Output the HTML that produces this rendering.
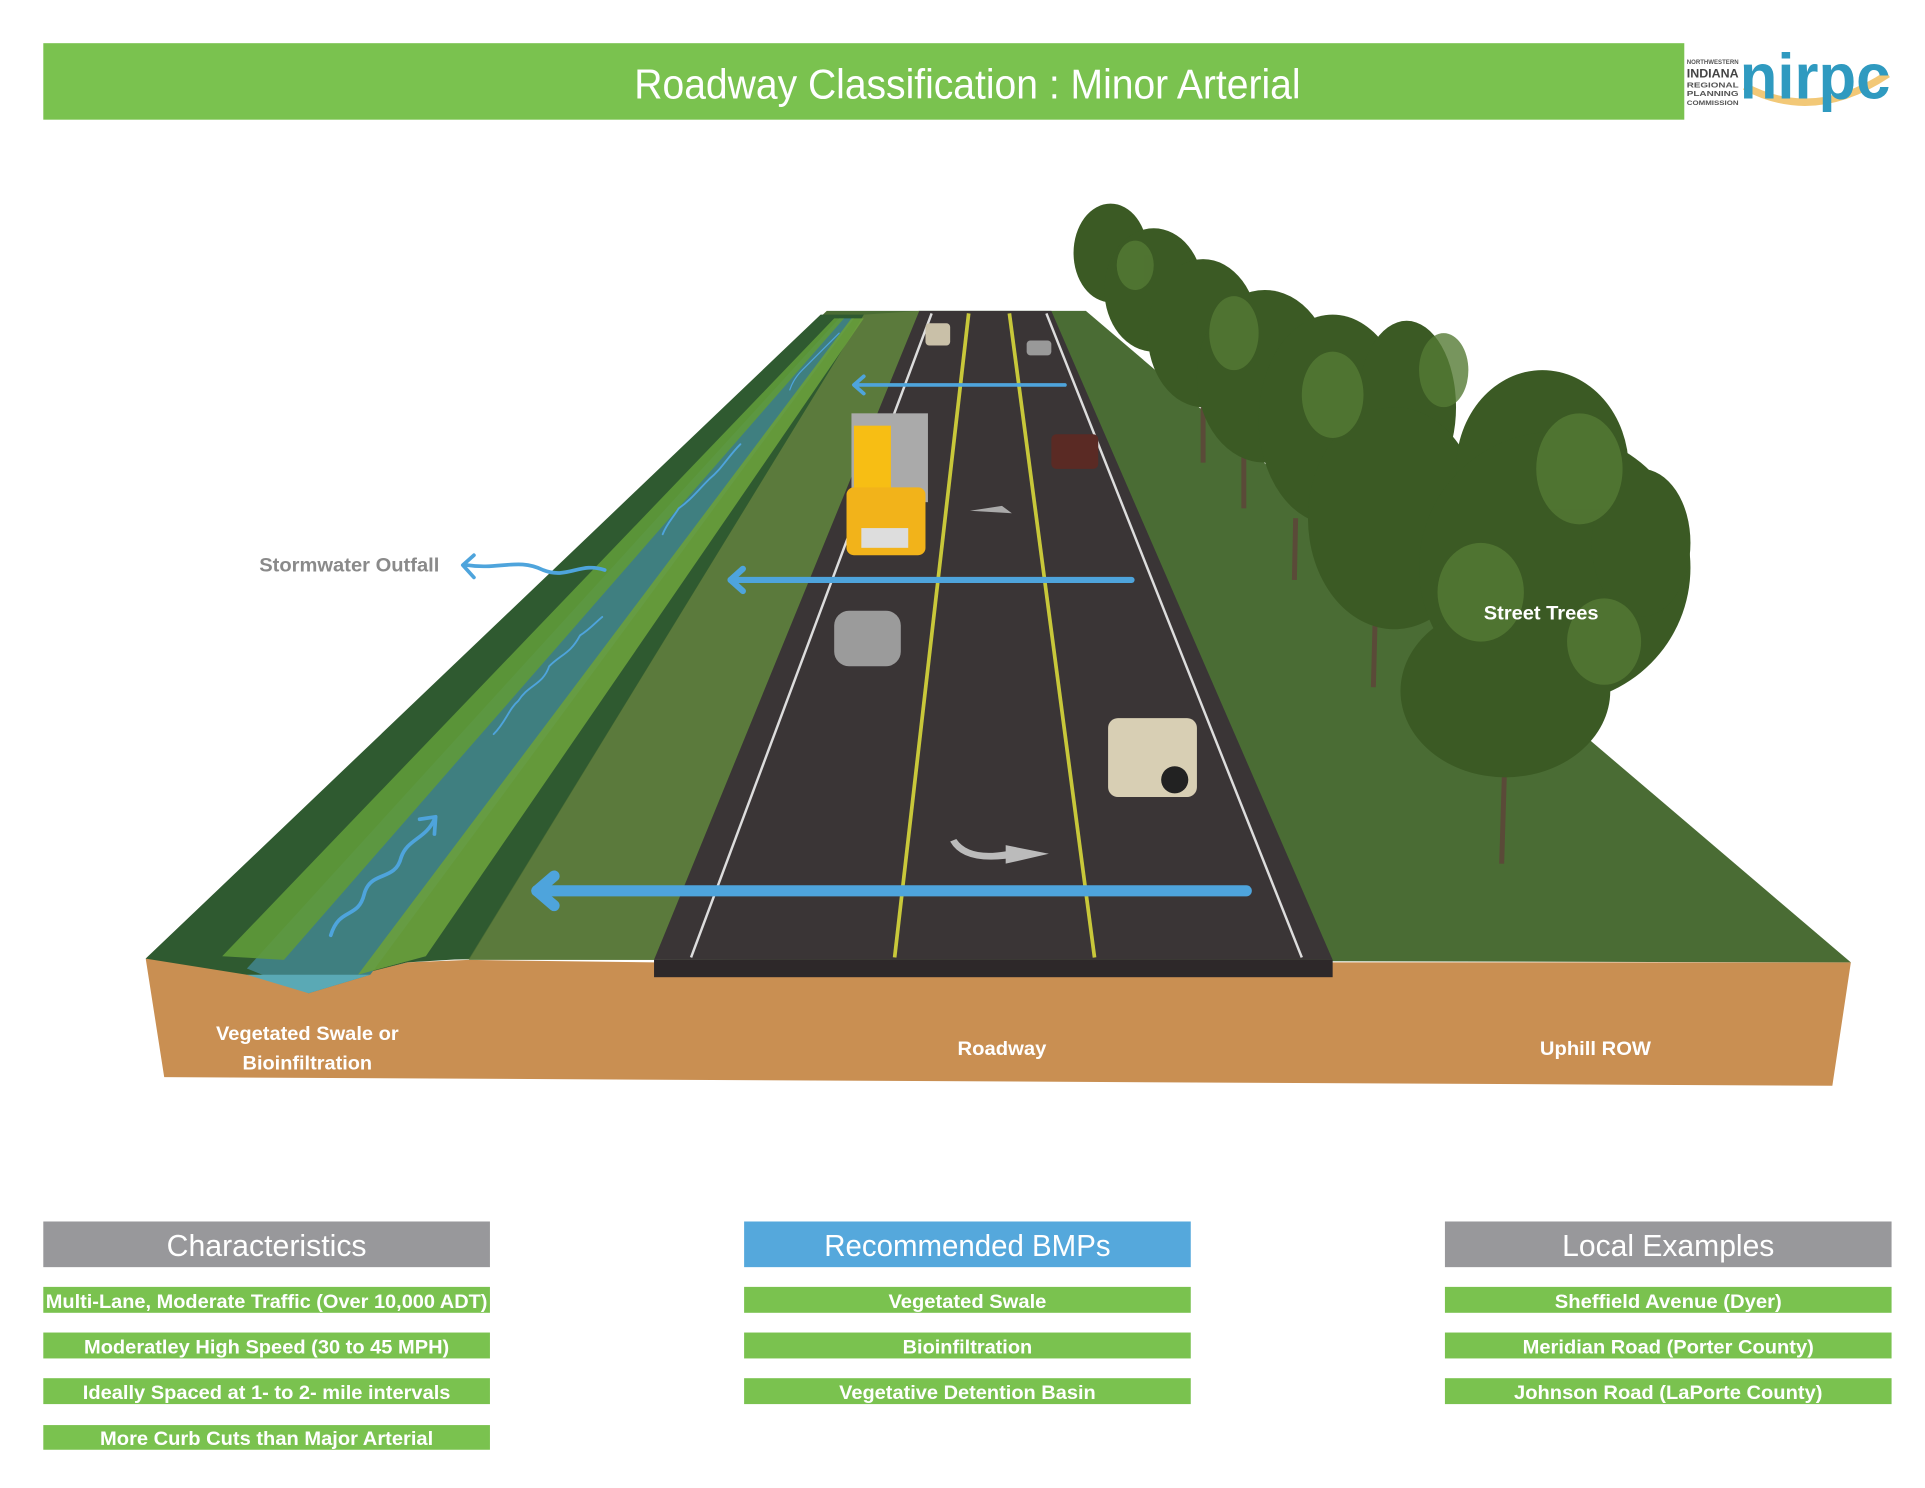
<!DOCTYPE html>
<html><head><meta charset="utf-8"><style>
html,body{margin:0;padding:0;background:#fff;}
svg{display:block;}
text{font-family:"Liberation Sans Narrow","Liberation Sans",sans-serif;}
</style></head><body>
<svg width="1925" height="1488" viewBox="0 0 1560 1206" xmlns="http://www.w3.org/2000/svg">
<rect width="1560" height="1206" fill="#fff"/>
<rect x="35" y="35" width="1330" height="62" fill="#7ac24f"/>
<text x="784" y="80" font-size="34" fill="#fff" text-anchor="middle" textLength="540" lengthAdjust="spacingAndGlyphs">Roadway Classification : Minor Arterial</text>
<g>
<text x="1367" y="52" font-size="5" font-weight="bold" fill="#555" textLength="42" lengthAdjust="spacingAndGlyphs">NORTHWESTERN</text>
<text x="1367" y="63" font-size="10" font-weight="bold" fill="#444" textLength="42" lengthAdjust="spacingAndGlyphs">INDIANA</text>
<text x="1367" y="71" font-size="6" font-weight="bold" fill="#555" textLength="42" lengthAdjust="spacingAndGlyphs">REGIONAL</text>
<text x="1367" y="78" font-size="6" font-weight="bold" fill="#555" textLength="42" lengthAdjust="spacingAndGlyphs">PLANNING</text>
<text x="1367" y="85" font-size="5" font-weight="bold" fill="#555" textLength="42" lengthAdjust="spacingAndGlyphs">COMMISSION</text>
<path d="M1414 70 Q1470 100 1530 60" stroke="#f2c877" stroke-width="6" fill="none"/>
<text x="1410" y="80" font-size="52" font-weight="bold" fill="#2f9ac0" textLength="122" lengthAdjust="spacingAndGlyphs">nirpc</text>
</g>

<polygon points="118,777 133,873 1485,880 1500,780 1080,780 530,780 380,778 330,780 248,800 200,780" fill="#c98f52"/>
<polygon points="118,777 670,252 880,252 1500,780" fill="#4a6c34"/>
<polygon points="380,778 700,255 745,252 530,778" fill="#5b7a3c"/>
<polygon points="118,777 665,255 700,255 380,777 330,780 250,800 200,790" fill="#2f5a30"/>
<polygon points="200,785 680,258 692,258 300,790 250,805" fill="#3f7f80"/>
<polygon points="180,775 676,258 684,258 230,778" fill="#5f9a3a" opacity="0.9"/>
<polygon points="290,790 690,258 700,258 345,775" fill="#6aa03c" opacity="0.9"/>
<polygon points="250,805 200,790 300,790" fill="#5aa9b5"/>
<polygon points="530,778 745,252 852,252 1080,778" fill="#3a3536"/>
<rect x="530" y="778" width="550" height="14" fill="#2d2829"/>
<line x1="560" y1="776" x2="755" y2="254" stroke="#ddd" stroke-width="2"/>
<line x1="1055" y1="776" x2="848" y2="254" stroke="#ddd" stroke-width="2"/>
<line x1="725" y1="776" x2="785" y2="254" stroke="#c8c83a" stroke-width="3"/>
<line x1="887" y1="776" x2="818" y2="254" stroke="#c8c83a" stroke-width="3"/>
<path d="M775 680 Q785 695 815 690 L815 685 L850 692 L815 700 L815 696 Q780 700 770 682 Z" fill="#bbb"/>
<path d="M786 414 L820 416 L812 410 Z" fill="#aaa"/>
<!-- trees -->
<g stroke="#5a4a38" stroke-width="4">
<line x1="1220" y1="600" x2="1217" y2="700"/>
<line x1="1115" y1="480" x2="1113" y2="557"/>
<line x1="1050" y1="420" x2="1049" y2="470"/>
<line x1="1008" y1="370" x2="1008" y2="412"/>
<line x1="975" y1="330" x2="975" y2="375"/>
</g>
<g fill="#3b5a24">
<ellipse cx="900" cy="205" rx="30" ry="40"/>
<ellipse cx="935" cy="235" rx="40" ry="50"/>
<ellipse cx="975" cy="270" rx="45" ry="60"/>
<ellipse cx="1025" cy="305" rx="55" ry="70"/>
<ellipse cx="1080" cy="340" rx="60" ry="85"/>
<ellipse cx="1140" cy="330" rx="40" ry="70"/>
<ellipse cx="1130" cy="420" rx="70" ry="90"/>
<ellipse cx="1250" cy="380" rx="70" ry="80"/>
<ellipse cx="1260" cy="460" rx="110" ry="110"/>
<ellipse cx="1220" cy="560" rx="85" ry="70"/>
<ellipse cx="1330" cy="440" rx="40" ry="60"/>
</g>
<g fill="#557a35" opacity="0.8">
<ellipse cx="920" cy="215" rx="15" ry="20"/>
<ellipse cx="1000" cy="270" rx="20" ry="30"/>
<ellipse cx="1080" cy="320" rx="25" ry="35"/>
<ellipse cx="1170" cy="300" rx="20" ry="30"/>
<ellipse cx="1280" cy="380" rx="35" ry="45"/>
<ellipse cx="1200" cy="480" rx="35" ry="40"/>
<ellipse cx="1300" cy="520" rx="30" ry="35"/>
</g>
<rect x="690" y="335" width="62" height="72" fill="#aaa"/>
<rect x="692" y="345" width="30" height="60" fill="#f7be14"/>
<rect x="686" y="395" width="64" height="55" rx="6" fill="#f2b31a"/>
<rect x="698" y="428" width="38" height="16" fill="#ddd"/>
<rect x="676" y="495" width="54" height="45" rx="12" fill="#9b9b9b"/>
<rect x="898" y="582" width="72" height="64" rx="8" fill="#d8cfb4"/>
<circle cx="952" cy="632" r="11" fill="#222"/>
<rect x="852" y="352" width="38" height="28" rx="4" fill="#5a2a24"/>
<rect x="750" y="262" width="20" height="18" rx="3" fill="#c9c0a8"/>
<rect x="832" y="276" width="20" height="12" rx="3" fill="#999"/>
<g stroke="#4ea4dc" fill="none" stroke-linecap="round" stroke-linejoin="round">
<line x1="863" y1="312" x2="693" y2="312" stroke-width="3"/>
<polyline points="700,305 692,312 700,319" stroke-width="3"/>
<line x1="917" y1="470" x2="592" y2="470" stroke-width="5"/>
<polyline points="602,461 592,470 602,479" stroke-width="5"/>
<line x1="1010" y1="722" x2="435" y2="722" stroke-width="9"/>
<polyline points="449,710 435,722 449,734" stroke-width="9"/>
<path d="M490 462 C470 455 460 470 440 462 C420 452 405 462 378 458" stroke-width="3"/>
<polyline points="384,450 375,458 384,468" stroke-width="3"/>
<path d="M268 758 C275 735 290 745 295 725 C300 705 320 715 325 695 C330 680 345 680 352 664" stroke-width="3"/>
<polyline points="340,664 353,662 352,676" stroke-width="3"/>
<path d="M400 595 C410 585 412 575 420 568 C428 555 440 555 445 540 C455 530 462 530 470 515 C478 510 482 505 488 500" stroke-width="1.5"/>
<path d="M600 360 C590 370 585 380 575 388 C565 398 560 405 550 412 C545 420 540 425 537 433" stroke-width="1.5"/>
<path d="M680 270 C670 280 660 290 650 300 C645 305 642 310 640 316" stroke-width="1"/>
</g>
<text x="283" y="463" font-size="16" font-weight="bold" fill="#8a8a8a" text-anchor="middle" textLength="146" lengthAdjust="spacingAndGlyphs">Stormwater Outfall</text>
<g font-size="16" font-weight="bold" fill="#fff" text-anchor="middle">
<text x="1249" y="502" textLength="93" lengthAdjust="spacingAndGlyphs">Street Trees</text>
<text x="249" y="843" textLength="148" lengthAdjust="spacingAndGlyphs">Vegetated Swale or</text>
<text x="249" y="867" textLength="105" lengthAdjust="spacingAndGlyphs">Bioinfiltration</text>
<text x="812" y="855" textLength="72" lengthAdjust="spacingAndGlyphs">Roadway</text>
<text x="1293" y="855" textLength="90" lengthAdjust="spacingAndGlyphs">Uphill ROW</text>
</g>
<rect x="35" y="990" width="362" height="37" fill="#98989b"/>
<rect x="603" y="990" width="362" height="37" fill="#55a8dc"/>
<rect x="1171" y="990" width="362" height="37" fill="#98989b"/>
<g font-size="25" fill="#fff" text-anchor="middle">
<text x="216" y="1018" textLength="162" lengthAdjust="spacingAndGlyphs">Characteristics</text>
<text x="784" y="1018" textLength="232" lengthAdjust="spacingAndGlyphs">Recommended BMPs</text>
<text x="1352" y="1018" textLength="172" lengthAdjust="spacingAndGlyphs">Local Examples</text>
</g>
<g fill="#7ac24f">
<rect x="35" y="1043" width="362" height="21"/>
<rect x="35" y="1080" width="362" height="21"/>
<rect x="35" y="1117" width="362" height="21"/>
<rect x="35" y="1155" width="362" height="20"/>
<rect x="603" y="1043" width="362" height="21"/>
<rect x="603" y="1080" width="362" height="21"/>
<rect x="603" y="1117" width="362" height="21"/>
<rect x="1171" y="1043" width="362" height="21"/>
<rect x="1171" y="1080" width="362" height="21"/>
<rect x="1171" y="1117" width="362" height="21"/>
</g>
<g font-size="16" fill="#fff" text-anchor="middle" font-weight="bold">
<text x="216" y="1060" textLength="358" lengthAdjust="spacingAndGlyphs">Multi-Lane, Moderate Traffic (Over 10,000 ADT)</text>
<text x="216" y="1097" textLength="296" lengthAdjust="spacingAndGlyphs">Moderatley High Speed (30 to 45 MPH)</text>
<text x="216" y="1134" textLength="298" lengthAdjust="spacingAndGlyphs">Ideally Spaced at 1- to 2- mile intervals</text>
<text x="216" y="1171" textLength="270" lengthAdjust="spacingAndGlyphs">More Curb Cuts than Major Arterial</text>
<text x="784" y="1060" textLength="128" lengthAdjust="spacingAndGlyphs">Vegetated Swale</text>
<text x="784" y="1097" textLength="105" lengthAdjust="spacingAndGlyphs">Bioinfiltration</text>
<text x="784" y="1134" textLength="208" lengthAdjust="spacingAndGlyphs">Vegetative Detention Basin</text>
<text x="1352" y="1060" textLength="184" lengthAdjust="spacingAndGlyphs">Sheffield Avenue (Dyer)</text>
<text x="1352" y="1097" textLength="236" lengthAdjust="spacingAndGlyphs">Meridian Road (Porter County)</text>
<text x="1352" y="1134" textLength="250" lengthAdjust="spacingAndGlyphs">Johnson Road (LaPorte County)</text>
</g>
</svg>
</body></html>
